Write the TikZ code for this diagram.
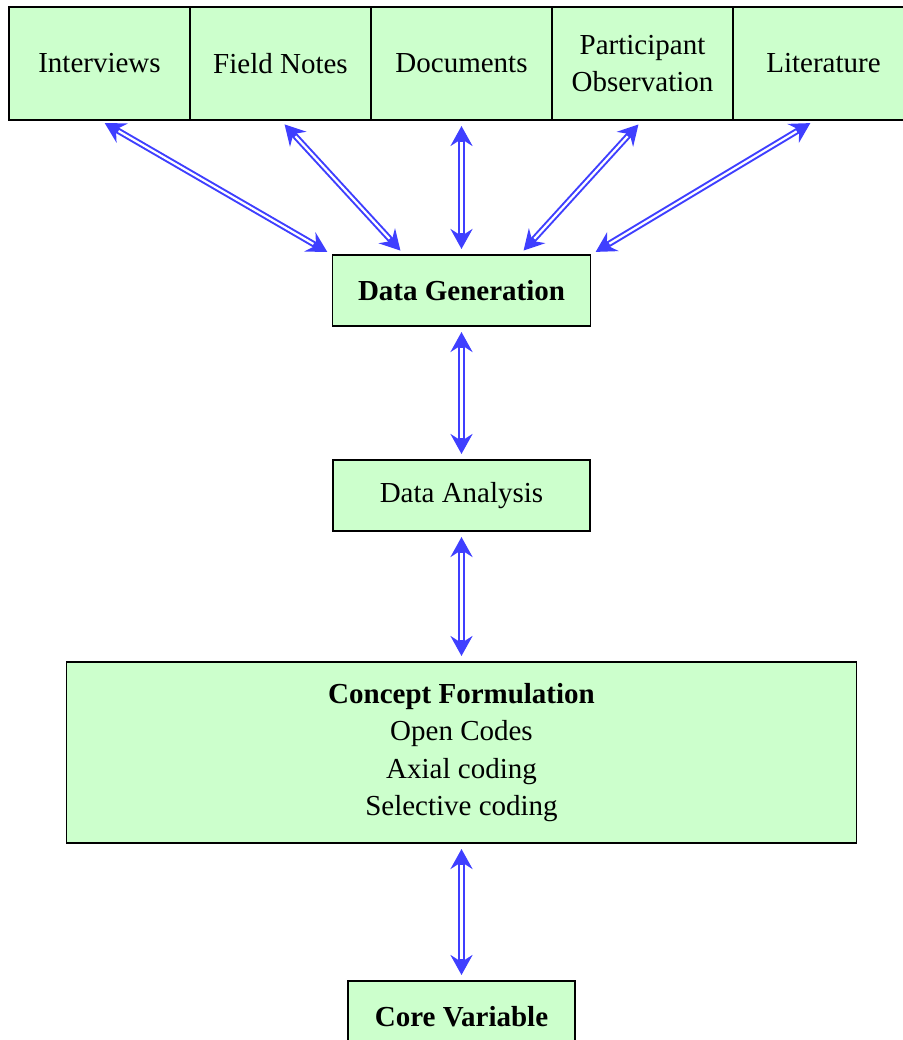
\documentclass[tikz,border=0pt]{standalone}
\usepackage{fontspec}
\setmainfont{Liberation Serif}
\usetikzlibrary{positioning,arrows.meta}
\definecolor{boxgreen}{HTML}{CCFFCC}
\definecolor{linkblue}{HTML}{3F3FFF}

\begin{document}
\begin{tikzpicture}[
    font=\fontsize{29}{37.5}\selectfont,
    box/.style={draw, fill=boxgreen, line width=1.6pt, align=center,
      minimum height=71pt, inner sep=0pt, outer sep=0pt},
    src/.style={box, minimum width=181pt, minimum height=113pt},
    link/.style={draw=linkblue, line width=6.2pt,
      {Stealth[length=20pt, width=22pt, inset=7pt]}-{Stealth[length=20pt, width=22pt, inset=7pt]},
      shorten <=6pt, shorten >=6pt,
      postaction={draw=white, line width=2.2pt, -, shorten <=22pt, shorten >=22pt}},
    node distance=0pt]
  \useasboundingbox (0,0) rectangle (902pt,-1040pt);

  % sources of data
  \node[src] (s1) at (99.5pt,-63.5pt) {Interviews};
  \node[src, right=of s1] (s2) {Field Notes};
  \node[src, right=of s2] (s3) {Documents};
  \node[src, right=of s3] (s4) {Participant\\Observation};
  \node[src, right=of s4] (s5) {Literature};

  % main steps
  \node[box, minimum width=258pt, below=135pt of s3] (gen) {\textbf{Data Generation}};
  \node[box, minimum width=257pt, below=134pt of gen] (ana) {Data Analysis};
  \node[box, minimum width=790pt, minimum height=181pt, below=131pt of ana] (con)
    {\textbf{Concept Formulation}\\Open Codes\\Axial coding\\Selective coding};
  \node[box, minimum width=227pt, below=138pt of con] (core) {\textbf{Core Variable}};

  \draw[link] (s1.south) -- (gen.north west);
  \draw[link] (s2.south) -- ([xshift=-57pt]gen.north);
  \draw[link] (s3.south) -- (gen.north);
  \draw[link] (s4.south) -- ([xshift=58pt]gen.north);
  \draw[link] ([xshift=-8pt]s5.south) -- (gen.north east);
  \draw[link] (gen) -- (ana);
  \draw[link] (ana) -- (con);
  \draw[link] (con) -- (core);
\end{tikzpicture}
\end{document}
